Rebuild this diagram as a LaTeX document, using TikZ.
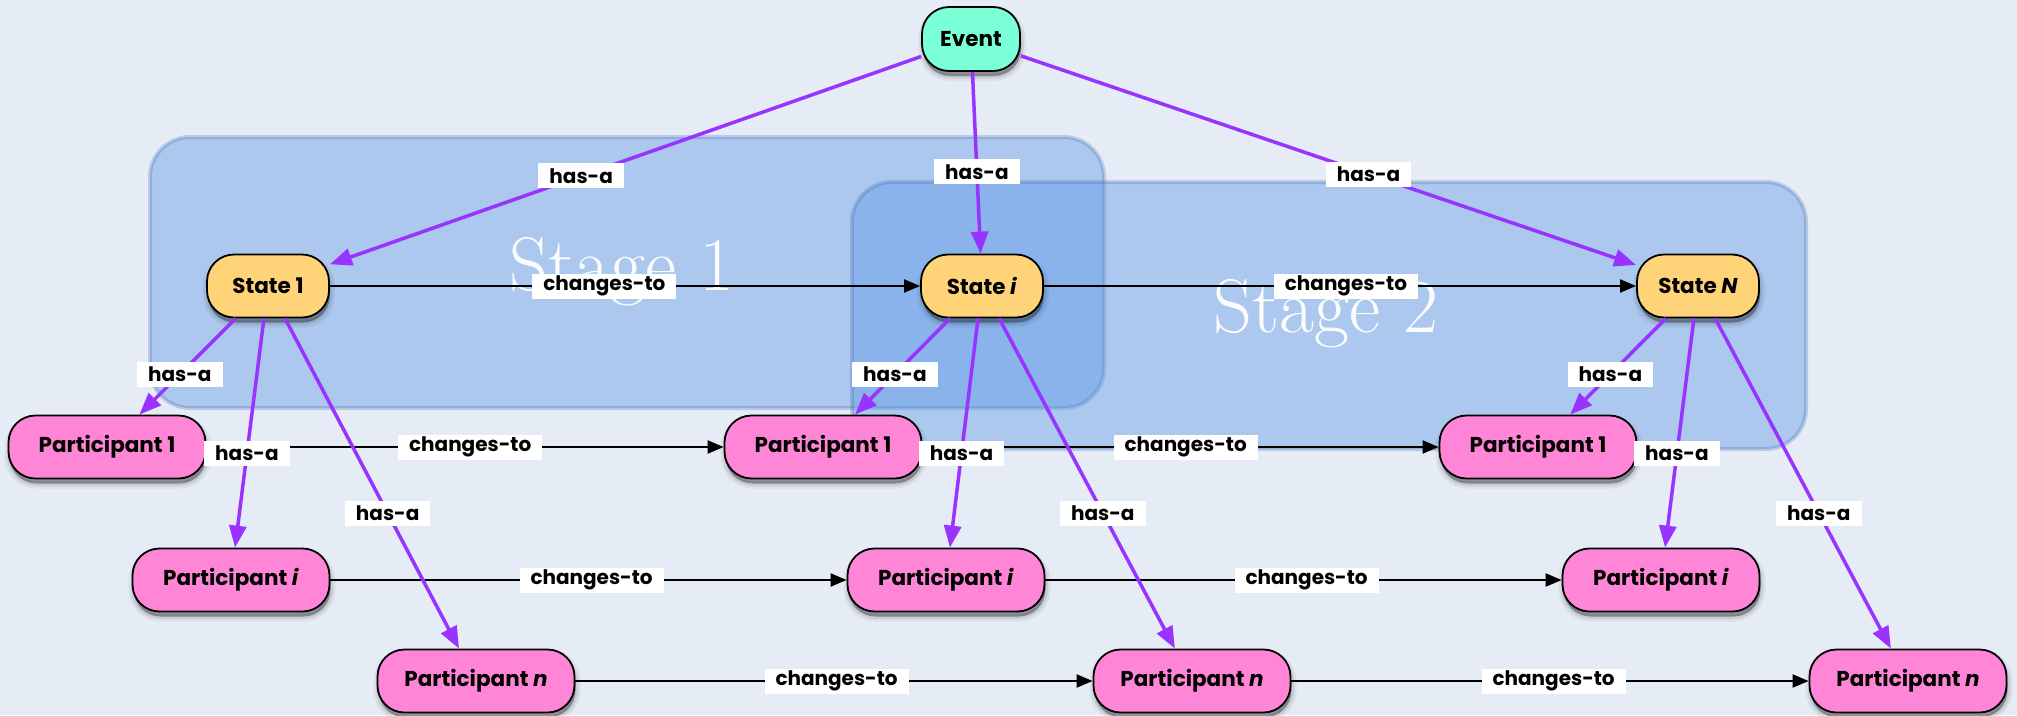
\documentclass[tikz,border=0pt]{standalone}
\usepackage{fontspec}
\usepackage{graphicx}
\newfontfamily\nodefont{Poppins}
\usetikzlibrary{arrows.meta,shadows}

\definecolor{bg}{RGB}{230,236,245}
\definecolor{stagefill}{RGB}{87,148,231}
\definecolor{stageline}{RGB}{60,100,170}
\definecolor{eventfill}{RGB}{122,255,214}
\definecolor{statefill}{RGB}{255,212,121}
\definecolor{partfill}{RGB}{255,134,214}
\definecolor{hasacol}{RGB}{153,51,255}

\tikzset{
  softshadow/.style={
    general shadow={fill=black, opacity=0.05, shadow xshift=1pt, shadow yshift=-5pt, draw=black, line width=10pt},
    general shadow={fill=black, opacity=0.08, shadow xshift=1pt, shadow yshift=-5pt, draw=black, line width=5pt},
    general shadow={fill=black, opacity=0.25, shadow xshift=1pt, shadow yshift=-5pt}},
  box/.style={rectangle, rounded corners=27pt, draw=black, line width=1.8pt, inner sep=0pt,
    minimum height=63pt, font=\nodefont\bfseries\fontsize{21.5}{25}\selectfont, softshadow},
  eventbox/.style={box, fill=eventfill, minimum width=98pt, minimum height=64pt},
  statebox/.style={box, fill=statefill, minimum width=122pt},
  partbox/.style={box, fill=partfill, minimum width=197pt},
  hasa/.style={draw=hasacol, line width=3.5pt, -{Triangle[length=22pt,width=17pt]}},
  changes/.style={draw=black, line width=2pt, -{Triangle[length=16pt,width=13pt]}},
  lab/.style={fill=white, inner xsep=11pt, inner ysep=0pt, minimum height=25pt,
    font=\nodefont\bfseries\fontsize{20}{24}\selectfont},
  stage/.style={rounded corners=40pt, fill=stagefill, fill opacity=0.4,
    draw=stageline, draw opacity=0.25, line width=4pt},
  stagetext/.style={text=white, text opacity=0.95, font=\fontsize{76}{76}\selectfont,
    anchor=base, inner sep=0pt}
}

\begin{document}
\begin{tikzpicture}[x=1pt, y=-1pt]
  % canvas
  \useasboundingbox (0,0) rectangle (2017,715);
  \fill[bg] (0,0) rectangle (2017,715);

  % stage regions
  \path[stage] (150,137) rectangle (1104,408);
  \path[stage] (852,182) rectangle (1806,449);
  \node[stagetext] (st1) at (622,290) {Stage 1};
  \node[stagetext] (st2) at (1326,332) {Stage 2};

  % nodes
  \node[eventbox] (E) at (971,39) {Event};

  \node[statebox] (S1) at (268,286) {State 1};
  \node[statebox] (Si) at (982,286) {State \textit{i}};
  \node[statebox] (SN) at (1698,286) {State \textit{N}};

  \node[partbox] (P1a) at (107,447) {Participant 1};
  \node[partbox] (P1b) at (823,447) {Participant 1};
  \node[partbox] (P1c) at (1538,447) {Participant 1};

  \node[partbox] (Pia) at (231,580) {Participant \textit{i}};
  \node[partbox] (Pib) at (946,580) {Participant \textit{i}};
  \node[partbox] (Pic) at (1661,580) {Participant \textit{i}};

  \node[partbox] (Pna) at (476,681) {Participant \textit{n}};
  \node[partbox] (Pnb) at (1192,681) {Participant \textit{n}};
  \node[partbox] (Pnc) at (1908,681) {Participant \textit{n}};

  % changes-to connectors
  \draw[changes] (S1) -- coordinate[pos=0.465] (c1) (Si);
  \draw[changes] (Si) -- coordinate[pos=0.51] (c2) (SN);
  \draw[changes] (P1a) -- coordinate[pos=0.51] (c3) (P1b);
  \draw[changes] (P1b) -- coordinate[pos=0.51] (c4) (P1c);
  \draw[changes] (Pia) -- coordinate[pos=0.506] (c5) (Pib);
  \draw[changes] (Pib) -- coordinate[pos=0.506] (c6) (Pic);
  \draw[changes] (Pna) -- coordinate[pos=0.505] (c7) (Pnb);
  \draw[changes] (Pnb) -- coordinate[pos=0.507] (c8) (Pnc);

  % has-a connectors
  \draw[hasa] (E) -- coordinate[pos=0.575] (h1) (S1);
  \draw[hasa] (E) -- coordinate[pos=0.55] (h2) (Si);
  \draw[hasa] (E) -- coordinate[pos=0.565] (h3) (SN);

  \draw[hasa] (S1) -- coordinate[pos=0.58] (h4) (P1a);
  \draw[hasa] (S1) -- coordinate[pos=0.59] (h5) (Pia);
  \draw[hasa] (S1) -- coordinate[pos=0.59] (h6) (Pna);

  \draw[hasa] (Si) -- coordinate[pos=0.58] (h7) (P1b);
  \draw[hasa] (Si) -- coordinate[pos=0.59] (h8) (Pib);
  \draw[hasa] (Si) -- coordinate[pos=0.59] (h9) (Pnb);

  \draw[hasa] (SN) -- coordinate[pos=0.58] (h10) (P1c);
  \draw[hasa] (SN) -- coordinate[pos=0.59] (h11) (Pic);
  \draw[hasa] (SN) -- coordinate[pos=0.59] (h12) (Pnc);

  % connector labels
  \foreach \c in {c1,c2,c3,c4,c5,c6,c7,c8}
    \node[lab] (l\c) at (\c) {changes-to};
  \foreach \h in {h1,h2,h3,h4,h5,h6,h7,h8,h9,h10,h11,h12}
    \node[lab] (l\h) at (\h) {has-a};
\end{tikzpicture}
\end{document}
